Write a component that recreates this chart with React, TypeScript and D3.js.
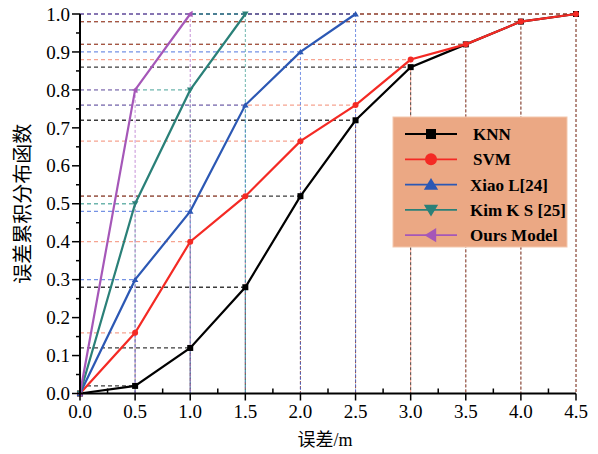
import React from "react";
import * as d3 from "d3";

// error distances (m)
const xTicks = [0, 0.5, 1, 1.5, 2, 2.5, 3, 3.5, 4, 4.5];
const yTicks = [0, 0.1, 0.2, 0.3, 0.4, 0.5, 0.6, 0.7, 0.8, 0.9, 1.0];

const knnValues = [0, 0.02, 0.12, 0.28, 0.52, 0.72, 0.86, 0.92, 0.98, 1.0];
const svmValues = [0, 0.16, 0.4, 0.52, 0.665, 0.76, 0.88, 0.92, 0.98, 1.0];
const xiaoValues = [0, 0.3, 0.48, 0.76, 0.9, 1.0];
const kimValues = [0, 0.5, 0.8, 1.0];
const oursValues = [0, 0.8, 1.0];

const seriesNames = ["KNN", "SVM", "Xiao L[24]", "Kim K S [25]", "Ours Model"];

type Shape = "square" | "circle" | "up" | "down" | "left";

const series = [
  { name: seriesNames[0], values: knnValues, color: "#000000", dash: "#1a1a1a", dashOp: 0.85, shape: "square" as Shape },
  { name: seriesNames[1], values: svmValues, color: "#f42a24", dash: "#f06848", dashOp: 0.6, shape: "circle" as Shape },
  { name: seriesNames[2], values: xiaoValues, color: "#2c58b4", dash: "#3a64d8", dashOp: 0.7, shape: "up" as Shape },
  { name: seriesNames[3], values: kimValues, color: "#2a8078", dash: "#2f968a", dashOp: 0.7, shape: "down" as Shape },
  { name: seriesNames[4], values: oursValues, color: "#a557b8", dash: "#b46ccb", dashOp: 0.75, shape: "left" as Shape },
];

const W = 598;
const H = 454;
const left = 80, right = 576, top = 14, bottom = 393.5;

const serif = "'Liberation Serif', 'Times New Roman', serif";

function Marker({ shape, x, y, s, color }: { shape: Shape; x: number; y: number; s: number; color: string }) {
  if (shape === "square") return <rect x={x - s / 2} y={y - s / 2} width={s} height={s} fill={color} />;
  if (shape === "circle") return <circle cx={x} cy={y} r={s / 2} fill={color} />;
  const h = s / 2;
  let pts: [number, number][] = [];
  if (shape === "up") pts = [[x, y - h], [x + h * 1.1, y + h * 0.8], [x - h * 1.1, y + h * 0.8]];
  if (shape === "down") pts = [[x, y + h], [x + h * 1.1, y - h * 0.8], [x - h * 1.1, y - h * 0.8]];
  if (shape === "left") pts = [[x - h, y], [x + h * 0.8, y - h * 1.1], [x + h * 0.8, y + h * 1.1]];
  return <polygon points={pts.map((p) => p.join(",")).join(" ")} fill={color} />;
}

export default function App() {
  const x = d3.scaleLinear().domain([0, 4.5]).range([left, right]);
  const y = d3.scaleLinear().domain([0, 1]).range([bottom, top]);
  const line = d3.line<number>().x((d, i) => x(xTicks[i])).y((d) => y(d));

  const xMinor = d3.range(0.25, 4.5, 0.5);
  const yMinor = d3.range(0.05, 1, 0.1);

  return (
    <svg width={W} height={H} style={{ position: "absolute", left: 0, top: 0, background: "#fff" }}>
      {/* projection lines */}
      {series.map((s) => (
        <g key={s.name + "dash"} stroke={s.dash} strokeOpacity={s.dashOp} fill="none">
          {s.values.map((v, i) =>
            i === 0 ? null : (
              <g key={i}>
                <line x1={left} x2={x(xTicks[i])} y1={y(v)} y2={y(v)} strokeWidth={1.3} strokeDasharray="4,3" />
                <line x1={x(xTicks[i])} x2={x(xTicks[i])} y1={y(v)} y2={bottom} strokeWidth={1} strokeDasharray="3,2" />
              </g>
            )
          )}
        </g>
      ))}

      {/* series */}
      {series.map((s) => (
        <g key={s.name}>
          <path d={line(s.values) || ""} fill="none" stroke={s.color} strokeWidth={2.2} />
          {s.values.map((v, i) => (
            <Marker key={i} shape={s.shape} x={x(xTicks[i])} y={y(v)} s={6} color={s.color} />
          ))}
        </g>
      ))}

      {/* axes */}
      <g stroke="#000" strokeWidth={1.5}>
        <line x1={left} x2={left} y1={top} y2={bottom + 0.75} strokeWidth={2} />
        <line x1={left - 1} x2={right} y1={bottom} y2={bottom} strokeWidth={2} />
        {yTicks.map((t) => (
          <line key={t} x1={left - 8} x2={left} y1={y(t)} y2={y(t)} />
        ))}
        {yMinor.map((t) => (
          <line key={t} x1={left - 4} x2={left} y1={y(t)} y2={y(t)} />
        ))}
        {xTicks.map((t) => (
          <line key={t} x1={x(t)} x2={x(t)} y1={bottom} y2={bottom + 7} />
        ))}
        {xMinor.map((t) => (
          <line key={t} x1={x(t)} x2={x(t)} y1={bottom} y2={bottom - 5} />
        ))}
      </g>
      <g fontFamily={serif} fontSize={19} fill="#000">
        {yTicks.map((t) => (
          <text key={t} x={left - 10} y={y(t)} dy="0.35em" textAnchor="end">
            {d3.format(".1f")(t)}
          </text>
        ))}
        {xTicks.map((t) => (
          <text key={t} x={x(t)} y={bottom + 24} textAnchor="middle">
            {d3.format(".1f")(t)}
          </text>
        ))}
      </g>
      <text x={325} y={446} textAnchor="middle" fontSize={18} fontFamily={"'Noto Sans CJK SC', " + serif}>
        误差<tspan fontFamily={serif}>/m</tspan>
      </text>
      <text
        transform={`translate(23, ${(top + bottom) / 2}) rotate(-90)`}
        textAnchor="middle"
        dy="0.35em"
        fontSize={20}
        fontFamily="'Noto Sans CJK SC', sans-serif"
      >
        误差累积分布函数
      </text>

      {/* legend */}
      <g>
        <rect x={393} y={117} width={174} height={130} fill="#eba884" stroke="#f3c8ae" strokeWidth={1} />
        {series.map((s, i) => {
          const ly = 134 + i * 25.3;
          return (
            <g key={s.name}>
              <line x1={405} x2={457} y1={ly} y2={ly} stroke={s.color} strokeWidth={1.8} />
              <Marker shape={s.shape} x={431} y={ly} s={s.shape === "square" ? 10 : s.shape === "circle" ? 12 : 13} color={s.color} />
              <text x={i < 2 ? 473 : 470} y={ly} dy="0.35em" fontFamily={serif} fontWeight="bold" fontSize={17}>
                {s.name}
              </text>
            </g>
          );
        })}
      </g>
    </svg>
  );
}
